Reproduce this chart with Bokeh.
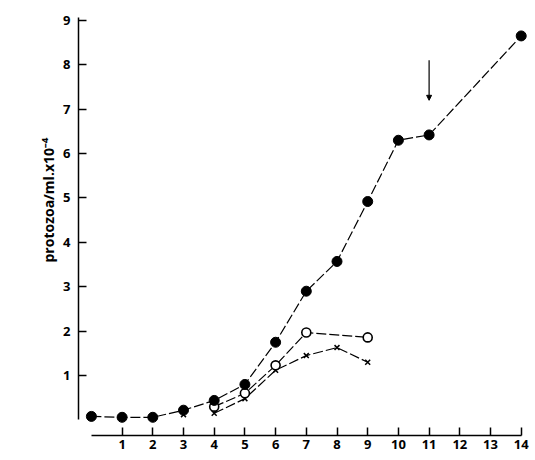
from bokeh.plotting import figure
from bokeh.models import Arrow, NormalHead, FixedTicker, Title
from bokeh.embed import file_html
from bokeh.resources import INLINE

# --- data (days, protozoa/ml x 10^-4) ---
days_filled = [0, 1, 2, 3, 4, 5, 6, 7, 8, 9, 10, 11, 14]
vals_filled = [0.08, 0.06, 0.06, 0.22, 0.44, 0.80, 1.75, 2.90, 3.57, 4.92, 6.30, 6.42, 8.65]

days_open = [4, 5, 6, 7, 9]
vals_open = [0.30, 0.60, 1.23, 1.97, 1.86]

days_cross = [3, 4, 5, 6, 7, 8, 9]
vals_cross = [0.12, 0.15, 0.48, 1.12, 1.45, 1.63, 1.30]

x_ticks = list(range(1, 15))
y_ticks = list(range(1, 10))

arrow_day = 11
arrow_from = 8.1
arrow_to = 7.2

y_label = "protozoa/ml.x10\u207b\u2074"

FONT = "Open Sans"

p = figure(frame_width=451, frame_height=420,
           x_range=(-0.42, 14.27), y_range=(-0.35, 9.11),
           output_backend="svg", toolbar_location=None,
           min_border_left=78, min_border_top=15, min_border_right=2,
           min_border_bottom=20)
p.outline_line_color = None
p.xgrid.visible = False
p.ygrid.visible = False
p.background_fill_color = "white"
p.border_fill_color = "white"

for ax in (p.xaxis[0], p.yaxis[0]):
    ax.major_tick_in = 8
    ax.major_tick_out = 0
    ax.minor_tick_in = 0
    ax.minor_tick_out = 0
    ax.axis_line_color = "black"
    ax.axis_line_width = 1.5
    ax.major_tick_line_width = 1.5
    ax.major_tick_line_color = "black"
    ax.major_label_text_font = FONT
    ax.major_label_text_font_size = "13px"
    ax.major_label_text_font_style = "bold"
    ax.major_label_text_color = "black"

p.xaxis[0].ticker = FixedTicker(ticks=x_ticks)
p.yaxis[0].ticker = FixedTicker(ticks=y_ticks)
p.xaxis[0].bounds = (0, x_ticks[-1])
p.yaxis[0].bounds = (0, 9.06)
p.xaxis[0].major_label_standoff = 4
p.yaxis[0].major_label_standoff = 8

p.add_layout(Title(text=y_label, align="left", offset=173, standoff=6,
                   text_font=FONT, text_font_size="14px", text_font_style="bold",
                   text_color="black"), "left")

dash = "10 3"
p.line(days_filled, vals_filled, line_color="black", line_width=1.2, line_dash=dash)
p.line(days_open, vals_open, line_color="black", line_width=1.2, line_dash=dash)
p.line(days_cross[1:], vals_cross[1:], line_color="black", line_width=1.2, line_dash=dash)

p.scatter(days_cross, vals_cross, marker="x", size=7, line_color="black", line_width=1.5)
p.scatter(days_open, vals_open, marker="circle", size=9, line_color="black",
          fill_color="white", line_width=1.6)
p.scatter(days_filled, vals_filled, marker="circle", size=10, line_color="black",
          fill_color="black")

p.add_layout(Arrow(x_start=arrow_day, y_start=arrow_from, x_end=arrow_day, y_end=arrow_to,
                   line_color="black", line_width=1.2,
                   end=NormalHead(size=5, fill_color="black", line_color="black")))

open("out.html", "w").write(file_html(p, INLINE))
